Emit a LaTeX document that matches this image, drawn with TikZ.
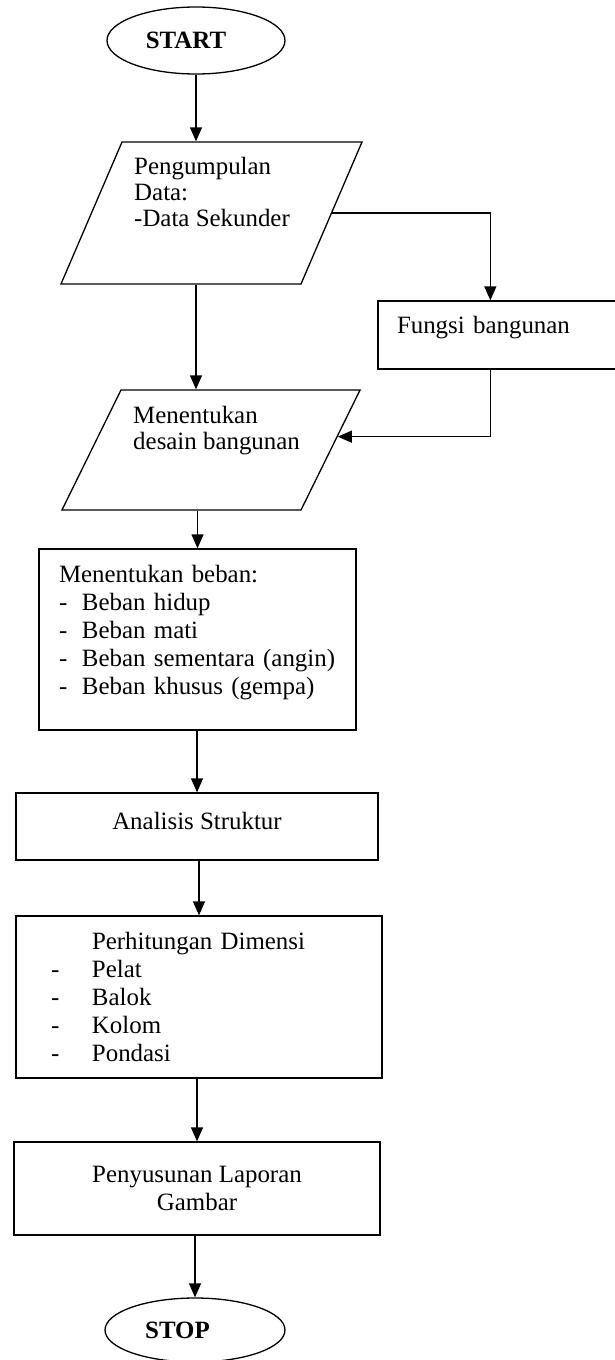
\documentclass[tikz,border=0pt]{standalone}
\usepackage{fontspec}
\setmainfont{Liberation Serif}
\usetikzlibrary{shapes.geometric,arrows.meta,calc}

\begin{document}
\begin{tikzpicture}[x=1pt,y=-1pt,line width=1.3pt,
  font=\fontsize{24.9}{28}\selectfont,
  term/.style={ellipse,draw,inner sep=0pt,minimum width=#1,font=\fontsize{24.9}{28}\selectfont\bfseries},
  io/.style n args={4}{trapezium,draw,inner sep=0pt,trapezium left angle=#1,trapezium right angle=#2,text width=#3,text height=#4,text depth=0pt},
  proc/.style n args={2}{rectangle,draw,inner sep=0pt,minimum width=#1,minimum height=#2},
  txt/.style={align=left,inner sep=0pt,font=\fontsize{24.9}{26}\selectfont},
  arrow/.style={-{Triangle[length=14pt,width=12pt]}}]
\useasboundingbox (0,0) rectangle (615,1360);
% shapes
\node[term=178pt,minimum height=67pt] (start) at (196,40.5) {START\hspace*{20pt}};
\node[io={66.75}{113.25}{179pt}{142pt}] (data) at (211.5,213) {};
\node[txt,anchor=north west] (datalbl) at ([xshift=12pt,yshift=-15pt]data.top left corner) {Pengumpulan\\Data:\\-Data Sekunder};
\node[proc={262pt}{68pt},align=left,text width=224pt,text depth=21pt] (fungsi) at (509,335) {Fungsi bangunan};
\node[io={63.8}{116.2}{180pt}{120pt}] (desain) at (211,450) {};
\node[txt,anchor=north west] (desainlbl) at ([xshift=12pt,yshift=-16pt]desain.top left corner) {Menentukan\\desain bangunan};
\node[proc={317pt}{181pt},align=left,text width=277pt,text depth=131pt] (beban) at (197.5,639.5) {Menentukan beban:\\
  \makebox[23pt][l]{-}Beban hidup\\
  \makebox[23pt][l]{-}Beban mati\\
  \makebox[23pt][l]{-}Beban sementara (angin)\\
  \makebox[23pt][l]{-}Beban khusus (gempa)};
\node[proc={362pt}{67pt},text depth=12pt] (analisis) at (197,826.5) {Analisis Struktur};
\node[proc={366pt}{162pt},align=left,text width=296pt] (dimensi) at (199,997) {\hspace*{41pt}Perhitungan Dimensi\\
  \makebox[41pt][l]{-}Pelat\\
  \makebox[41pt][l]{-}Balok\\
  \makebox[41pt][l]{-}Kolom\\
  \makebox[41pt][l]{-}Pondasi};
\node[proc={366pt}{93pt},align=center] (laporan) at (197,1188.5) {Penyusunan Laporan\\Gambar};
\node[term=180pt,minimum height=64pt] (stop) at (195,1330) {STOP\hspace*{35pt}};
% connectors
\coordinate (desainin) at ($(desain.top right corner)!0.39!(desain.bottom right corner)$);
\draw[arrow] (start) -- (start |- data.top side);
\draw[arrow] (data.bottom side -| start) -- (desain.top side -| start);
\draw[arrow] (data.right side) -| ([xshift=113pt]fungsi.north west);
\draw[arrow] ([xshift=113pt]fungsi.south west) |- (desainin);
\foreach \a/\b in {desain/beban,beban/analisis,analisis/dimensi,dimensi/laporan,laporan/stop}
  \draw[arrow] (\b.north |- \a.south) -- (\b.north);
\end{tikzpicture}
\end{document}
